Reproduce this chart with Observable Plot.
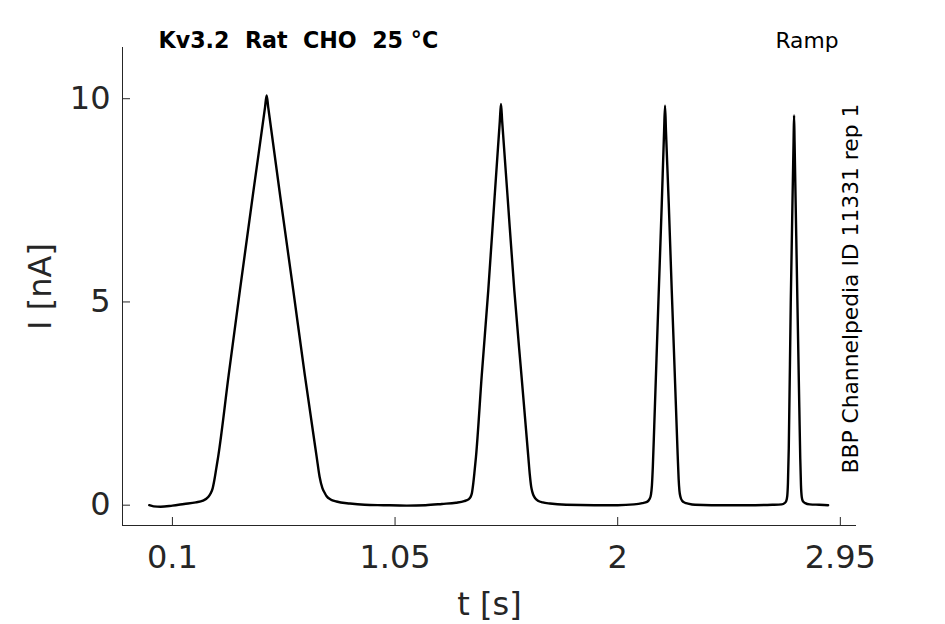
<!DOCTYPE html>
<html>
<head>
<meta charset="utf-8">
<script src="https://cdn.jsdelivr.net/npm/d3@7"></script>
<script src="https://cdn.jsdelivr.net/npm/@observablehq/plot@0.6"></script>
<style>
  html, body { margin: 0; padding: 0; background: #ffffff; }
  #chart { width: 945px; height: 624px; }
</style>
</head>
<body>
<div id="chart"></div>
<script>
// ---- data (time in s, current in nA) ----
const tSec = [
  0.001, 0.02, 0.05, 0.10, 0.15, 0.20, 0.23, 0.2528, 0.262, 0.271, 0.279, 0.287, 0.2955,
  0.34, 0.3881, 0.445, 0.495, 0.5021, 0.509, 0.56, 0.6156, 0.665, 0.7155,
  0.728, 0.740, 0.750, 0.7581, 0.775, 0.80, 0.8575, 0.92, 1.00, 1.10, 1.18,
  1.25, 1.31, 1.345, 1.365, 1.372, 1.378, 1.384, 1.389, 1.3953, 1.42, 1.4478,
  1.475, 1.497, 1.502, 1.507, 1.53, 1.5588, 1.59, 1.6186, 1.625, 1.631, 1.636,
  1.640, 1.648, 1.66, 1.68, 1.7112, 1.78, 1.90, 2.00, 2.07, 2.105,
  2.125, 2.136, 2.142, 2.146, 2.150, 2.156, 2.1737, 2.188, 2.198, 2.202,
  2.206, 2.218, 2.2306, 2.240, 2.249, 2.256, 2.260, 2.2635, 2.268, 2.275,
  2.287, 2.30, 2.33, 2.40, 2.55, 2.66, 2.70,
  2.712, 2.719, 2.7235, 2.7265, 2.730, 2.7386, 2.7475, 2.7505, 2.7526,
  2.7547, 2.7667, 2.775, 2.779, 2.782, 2.7855, 2.790, 2.80, 2.82, 2.86, 2.898
];
const currentNA = [
  0.00, -0.03, -0.04, -0.01, 0.03, 0.07, 0.11, 0.20, 0.28, 0.40, 0.62, 0.90, 1.20,
  3.20, 5.29, 7.70, 9.78, 10.08, 9.78, 7.60, 5.29, 3.20, 1.19,
  0.70, 0.42, 0.30, 0.22, 0.14, 0.09, 0.04, 0.01, 0.00, -0.01, 0.00,
  0.03, 0.06, 0.10, 0.15, 0.20, 0.30, 0.55, 0.82, 1.19, 3.20, 5.29,
  7.60, 9.45, 9.87, 9.45, 7.60, 5.29, 3.15, 1.19, 0.75, 0.45, 0.32,
  0.25, 0.17, 0.11, 0.07, 0.04, 0.01, 0.00, 0.00, 0.02, 0.05,
  0.08, 0.15, 0.26, 0.48, 0.95, 1.95, 5.00, 7.40, 9.20, 9.83,
  9.20, 7.40, 5.29, 3.80, 2.35, 1.23, 0.65, 0.35, 0.20, 0.11,
  0.06, 0.04, 0.01, 0.00, 0.00, 0.01, 0.02,
  0.05, 0.10, 0.22, 0.55, 1.40, 5.04, 8.00, 8.95, 9.59,
  8.95, 5.04, 2.40, 1.15, 0.50, 0.20, 0.10, 0.05, 0.02, 0.01, 0.00
];
const xTicks = [0.1, 1.05, 2, 2.95];
const xTickLabels = ["0.1", "1.05", "2", "2.95"];
const yTicks = [0, 5, 10];
const yTickLabels = ["0", "5", "10"];
const xDomain = [-0.113, 3.019];
const yDomain = [-0.5, 11.26];
const titleText = "Kv3.2  Rat  CHO  25 \u00B0C";
const protocolText = "Ramp";
const sideText = "BBP Channelpedia ID 11331 rep 1";
const xLabel = "t [s]";
const yLabel = "I [nA]";

const trace = tSec.map((t, i) => ({t, I: currentNA[i]}));

const W = 945, H = 624;
const mL = 122, mR = 89, mT = 47, mB = 99;
const innerW = W - mL - mR, innerH = H - mT - mB;
const axisColor = "#262626";

const chart = Plot.plot({
  width: W,
  height: H,
  marginLeft: mL,
  marginRight: mR,
  marginTop: mT,
  marginBottom: mB,
  style: {fontFamily: "DejaVu Sans", background: "#ffffff", color: axisColor},
  x: {domain: xDomain},
  y: {domain: yDomain},
  marks: [
    // axis lines (left and bottom)
    Plot.ruleX([xDomain[0]], {stroke: axisColor, strokeWidth: 1}),
    Plot.ruleY([yDomain[0]], {stroke: axisColor, strokeWidth: 1}),
    // inward ticks
    Plot.tickX(xTicks, {x: d => d, stroke: axisColor, strokeWidth: 1, insetTop: innerH - 8}),
    Plot.tickY(yTicks, {y: d => d, stroke: axisColor, strokeWidth: 1, insetRight: innerW - 8}),
    Plot.axisX({
      ticks: xTicks, tickFormat: d => xTickLabels[xTicks.indexOf(d)],
      tickSize: 0, tickPadding: 20, fontSize: 32, fill: axisColor, label: null
    }),
    Plot.axisY({
      ticks: yTicks, tickFormat: d => yTickLabels[yTicks.indexOf(d)],
      tickSize: 0, tickPadding: 12, fontSize: 32, fill: axisColor, label: null
    }),
    // current trace
    Plot.line(trace, {x: "t", y: "I", stroke: "#000000", strokeWidth: 2.4, curve: "monotone-x"}),
    // title
    Plot.text([titleText], {
      text: d => d, frameAnchor: "top-left", dx: 36, dy: 0,
      textAnchor: "start", lineAnchor: "bottom", fontSize: 22.2, fontWeight: "bold", fill: "#000000"
    }),
    Plot.text([protocolText], {
      text: d => d, frameAnchor: "top-right", dx: -18, dy: 0,
      textAnchor: "end", lineAnchor: "bottom", fontSize: 21.8, fill: "#000000"
    }),
    Plot.text([sideText], {
      text: d => d, frameAnchor: "bottom-right", dx: 1, dy: -52, rotate: -90,
      textAnchor: "start", lineAnchor: "bottom", fontSize: 21.8, fill: "#000000"
    }),
    // axis labels
    Plot.text([xLabel], {
      text: d => d, frameAnchor: "bottom", dx: 0, dy: 89,
      textAnchor: "middle", lineAnchor: "bottom", fontSize: 32, fill: axisColor
    }),
    Plot.text([yLabel], {
      text: d => d, frameAnchor: "left", dx: -72, dy: 0, rotate: -90,
      textAnchor: "middle", lineAnchor: "bottom", fontSize: 32, fill: axisColor
    })
  ]
});

document.getElementById("chart").appendChild(chart);
</script>
</body>
</html>
